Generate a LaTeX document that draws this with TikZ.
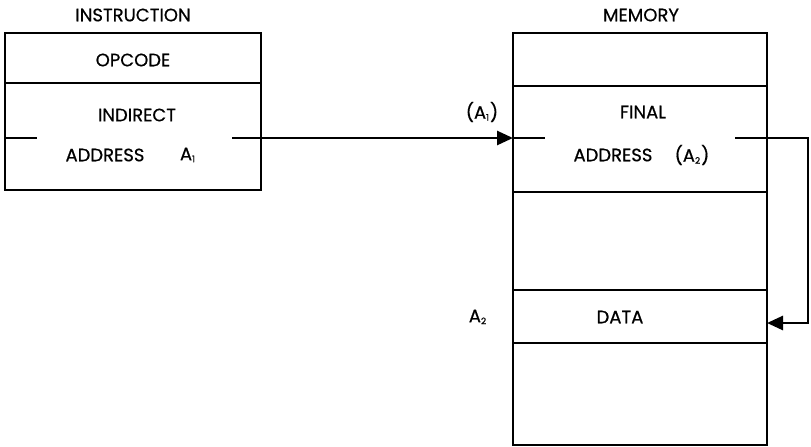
\documentclass[tikz,border=0pt]{standalone}
\usepackage{fontspec}
\setmainfont{Poppins}[FakeBold=0.6]
\usetikzlibrary{positioning,arrows.meta}
\newcommand{\lowidx}[1]{\textsubscript{\fontsize{4.5}{5}\selectfont #1}}
\begin{document}
\begin{tikzpicture}[x=0.5pt,y=-0.5pt,
  cell/.style={draw=black, line width=1.3pt, rectangle, inner sep=0pt, outer sep=0pt},
  lbl/.style={font=\fontsize{9}{10}\selectfont},
  link/.style={line width=1.3pt},
  tip/.style={-{Triangle[length=8pt,width=7pt]}}]
\useasboundingbox (0,0) rectangle (811,446);
% instruction word
\node[lbl] (instTitle) at (133,15) {INSTRUCTION};
\node[cell, minimum width=128pt, minimum height=25pt] (opcode) at (133,58) {};
\node[cell, minimum width=128pt, minimum height=53.5pt, below=0pt of opcode] (indAddr) {};
\node[lbl] (opcodeTxt) at (133,60) {OPCODE};
\node[lbl] (indTxt) at (137,115) {INDIRECT};
\node[lbl] (addrTxt) at (105,155) {ADDRESS};
\node[lbl] (aOneTxt) at (188,155) {A\lowidx{1}};
% memory
\node[lbl] (memTitle) at (641,15) {MEMORY};
\node[cell, minimum width=127pt, minimum height=26.5pt] (mTop) at (640,59.5) {};
\node[cell, minimum width=127pt, minimum height=53pt, below=0pt of mTop] (finAddr) {};
\node[cell, minimum width=127pt, minimum height=49pt, below=0pt of finAddr] (mMid) {};
\node[cell, minimum width=127pt, minimum height=26.5pt, below=0pt of mMid] (data) {};
\node[cell, minimum width=127pt, minimum height=51pt, below=0pt of data] (mBot) {};
\node[lbl] (finTxt) at (643,112) {FINAL};
\node[lbl] (finAddrTxt) at (613,155) {ADDRESS};
\node[lbl] (aTwoTxt) at (692,155) {(A\lowidx{2})};
\node[lbl] (aOneLbl) at (482,112) {(A\lowidx{1})};
\node[lbl] (dataTxt) at (620,317) {DATA};
\node[lbl] (aTwoLbl) at (478,317) {A\lowidx{2}};
% pointers
\coordinate (instStubL) at (37,138);
\coordinate (instStubR) at (232,138);
\coordinate (memStubL) at (545,138);
\coordinate (memStubR) at (735,138);
\coordinate (loopTop) at (808,138);
\coordinate (loopBot) at (808,323);
\draw[link] (indAddr.west |- instStubL) -- (instStubL);
\draw[link,tip] (instStubR) -- (finAddr.west |- instStubR);
\draw[link] (finAddr.west |- memStubL) -- (memStubL);
\draw[link,tip] (memStubR) -- (loopTop) -- (loopBot) -- (data.east |- loopBot);
\end{tikzpicture}
\end{document}
